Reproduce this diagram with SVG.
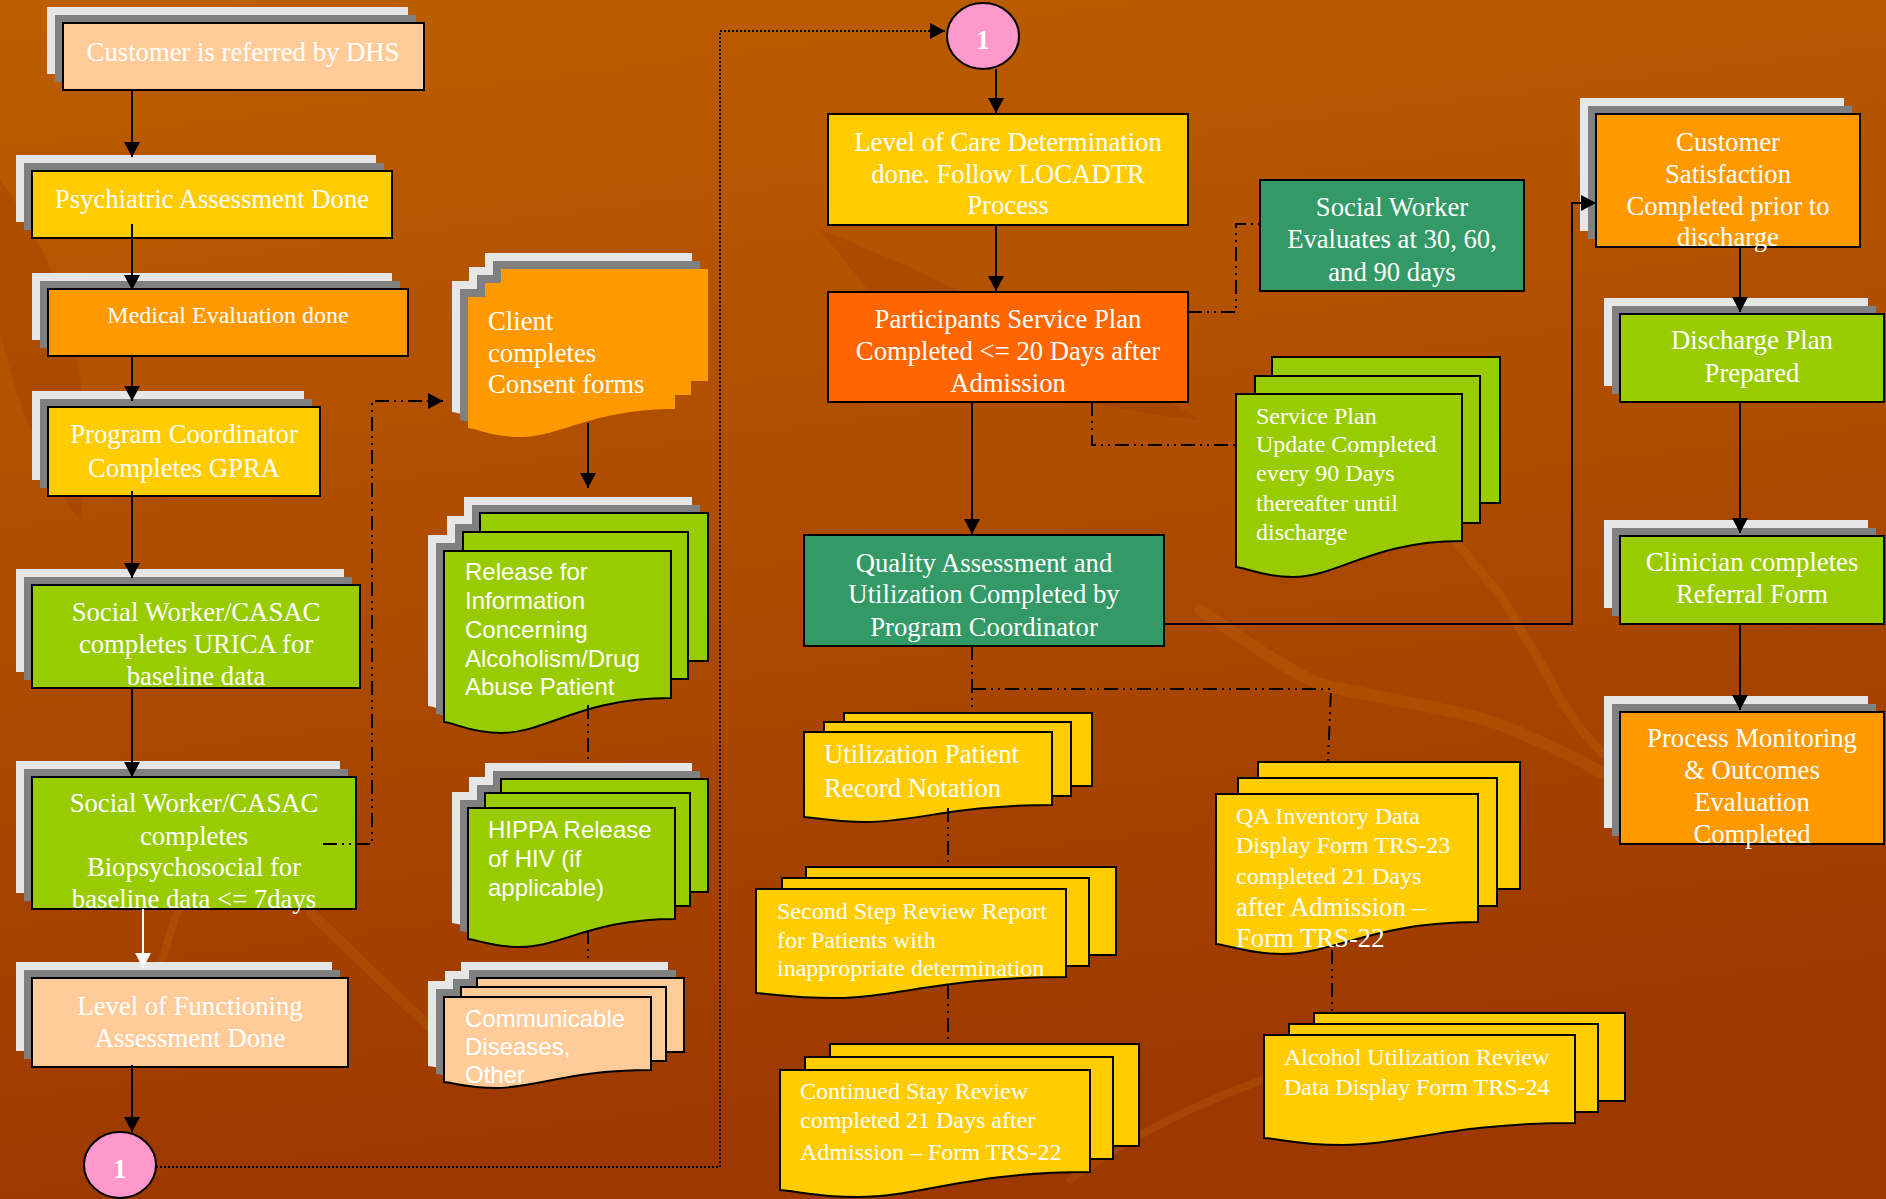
<svg xmlns="http://www.w3.org/2000/svg" xmlns:xlink="http://www.w3.org/1999/xlink" width="1886" height="1199" viewBox="0 0 1886 1199">
<style>
.box{stroke:#000;stroke-width:2}
.t{font-family:"Liberation Serif","Times New Roman",serif;fill:#fff;font-size:26.7px}
.t24{font-size:24px}
.ts{font-family:"Liberation Sans",Arial,sans-serif;fill:#fff;font-size:24px}
.c{text-anchor:middle}
.sh1{fill:#E6E6E6}
.sh2{fill:#808080}
.conn{fill:none;stroke:#000;stroke-width:2}
.dd{stroke-dasharray:14 5 2 5 2 5}
.dot{stroke-dasharray:2 2}
.peach{fill:#FFCC99}
.yel{fill:#FFCC00}
.org{fill:#FF9900}
.dorg{fill:#FF6600}
.grn{fill:#99CC00}
.teal{fill:#339966}
.pink{fill:#FF99CC}
</style>
<defs>
<linearGradient id="bg" x1="0" y1="0" x2="0.2" y2="1">
<stop offset="0" stop-color="#BC5E00"/>
<stop offset="0.5" stop-color="#AE4C00"/>
<stop offset="1" stop-color="#9C3800"/>
</linearGradient>
<marker id="arr" markerUnits="userSpaceOnUse" markerWidth="16" markerHeight="16" refX="15" refY="8" orient="auto">
<path d="M0,0 L15,8 L0,16 Z" fill="#000"/>
</marker>
<marker id="arrW" markerUnits="userSpaceOnUse" markerWidth="16" markerHeight="16" refX="15" refY="8" orient="auto">
<path d="M0,0 L15,8 L0,16 Z" fill="#fff"/>
</marker>
<g id="d-consent"><rect x="501" y="269" width="207" height="112"/><rect x="485" y="283" width="206" height="112"/><path d="M468,297 H675 V409 C592,409 561,437 520,437 C493,437 478,429 468,428 Z"/></g>
<g id="d-rel"><rect x="480" y="513" width="228" height="148"/><rect x="463" y="532" width="225" height="147"/><path d="M444,551 H671 V698 C580,698 546,733 501,733 C471,733 455,723 444,722 Z"/></g>
<g id="d-hippa"><rect x="501" y="779" width="207" height="113"/><rect x="485" y="793" width="205" height="113"/><path d="M468,808 H675 V919 C592,919 561,947 520,947 C493,947 478,940 468,939 Z"/></g>
<g id="d-comm"><rect x="477" y="978" width="207" height="74"/><rect x="461" y="987" width="205" height="74"/><path d="M444,997 H651 V1070 C568,1070 537,1088 496,1088 C469,1088 454,1083 444,1082 Z"/></g>
</defs>

<rect width="1886" height="1199" fill="url(#bg)"/>
<g fill="none" stroke="#D08A10" stroke-linecap="round" opacity="0.16">
<path d="M1200,610 C1260,650 1300,680 1331,687 C1420,705 1480,715 1506,727 C1550,745 1580,760 1602,773" stroke-width="12"/>
<path d="M1454,540 C1480,570 1495,590 1502,597 C1520,630 1540,660 1550,680 C1570,720 1590,740 1602,753" stroke-width="9"/>
<path d="M311,913 C350,950 400,1000 430,1027" stroke-width="10"/>
<path d="M182,900 C170,930 162,960 158,983" stroke-width="8"/>
<path d="M1070,1180 C1150,1120 1250,1080 1380,1040" stroke-width="8"/>
</g>
<g fill="#8E2E00" opacity="0.2">
<path d="M0,180 C60,260 100,380 80,520 C40,470 10,380 0,330 Z"/>
<path d="M820,230 C900,260 1050,330 1200,420 C1100,410 980,380 900,330 Z"/>
</g>

<g id="n-customer">
<rect class="sh1" x="47" y="7" width="361" height="67"/>
<rect class="sh2" x="55" y="15" width="361" height="67"/>
<rect class="box peach" x="63" y="23" width="361" height="67"/>
<text class="t c" x="243" y="61">Customer is referred by DHS</text>
</g>
<g id="n-psych">
<rect class="sh1" x="16" y="155" width="360" height="67"/>
<rect class="sh2" x="24" y="163" width="360" height="67"/>
<rect class="box yel" x="32" y="171" width="360" height="67"/>
<text class="t c" x="212" y="208">Psychiatric Assessment Done</text>
</g>
<g id="n-medical">
<rect class="sh1" x="32" y="273" width="360" height="67"/>
<rect class="sh2" x="40" y="281" width="360" height="67"/>
<rect class="box org" x="48" y="289" width="360" height="67"/>
<text class="t t24 c" x="228" y="323">Medical Evaluation done</text>
</g>
<g id="n-program">
<rect class="sh1" x="32" y="391" width="272" height="89"/>
<rect class="sh2" x="40" y="399" width="272" height="89"/>
<rect class="box yel" x="48" y="407" width="272" height="89"/>
<text class="t c" x="184" y="443">Program Coordinator</text>
<text class="t c" x="184" y="477">Completes GPRA</text>
</g>
<g id="n-urica">
<rect class="sh1" x="16" y="569" width="328" height="103"/>
<rect class="sh2" x="24" y="577" width="328" height="103"/>
<rect class="box grn" x="32" y="585" width="328" height="103"/>
<text class="t c" x="196" y="621">Social Worker/CASAC</text>
<text class="t c" x="196" y="653">completes URICA for</text>
<text class="t c" x="196" y="685">baseline data</text>
</g>
<g id="n-biopsych">
<rect class="sh1" x="16" y="761" width="324" height="132"/>
<rect class="sh2" x="24" y="769" width="324" height="132"/>
<rect class="box grn" x="32" y="777" width="324" height="132"/>
<text class="t c" x="194" y="812">Social Worker/CASAC</text>
<text class="t c" x="194" y="845">completes</text>
<text class="t c" x="194" y="876">Biopsychosocial for</text>
<text class="t c" x="194" y="908">baseline data &lt;= 7days</text>
</g>
<g id="n-lof">
<rect class="sh1" x="16" y="962" width="316" height="89"/>
<rect class="sh2" x="24" y="970" width="316" height="89"/>
<rect class="box peach" x="32" y="978" width="316" height="89"/>
<text class="t c" x="190" y="1015">Level of Functioning</text>
<text class="t c" x="190" y="1047">Assessment Done</text>
</g>
<g id="n-conn-bottom">
<ellipse class="box pink" cx="120" cy="1165" rx="36" ry="33"/>
<text class="t c" x="120" y="1178" font-size="28" font-weight="bold">1</text>
</g>

<g id="n-consent">
<use xlink:href="#d-consent" class="sh1" transform="translate(-16,-16)"/>
<use xlink:href="#d-consent" class="sh2" transform="translate(-8,-8)"/>
<use xlink:href="#d-consent" class="org"/>
<text class="t" x="488" y="330">Client</text>
<text class="t" x="488" y="362">completes</text>
<text class="t" x="488" y="393">Consent forms</text>
</g>
<g id="n-release">
<use xlink:href="#d-rel" class="sh1" transform="translate(-16,-16)"/>
<use xlink:href="#d-rel" class="sh2" transform="translate(-8,-8)"/>
<use xlink:href="#d-rel" class="grn" stroke="#000" stroke-width="2"/>
<text class="ts" x="465" y="580">Release for</text>
<text class="ts" x="465" y="609">Information</text>
<text class="ts" x="465" y="638">Concerning</text>
<text class="ts" x="465" y="667">Alcoholism/Drug</text>
<text class="ts" x="465" y="695">Abuse Patient</text>
</g>
<g id="n-hippa">
<use xlink:href="#d-hippa" class="sh1" transform="translate(-16,-16)"/>
<use xlink:href="#d-hippa" class="sh2" transform="translate(-8,-8)"/>
<use xlink:href="#d-hippa" class="grn" stroke="#000" stroke-width="2"/>
<text class="ts" x="488" y="838">HIPPA Release</text>
<text class="ts" x="488" y="867">of HIV (if</text>
<text class="ts" x="488" y="896">applicable)</text>
</g>
<g id="n-comm">
<use xlink:href="#d-comm" class="sh1" transform="translate(-16,-16)"/>
<use xlink:href="#d-comm" class="sh2" transform="translate(-8,-8)"/>
<use xlink:href="#d-comm" class="peach" stroke="#000" stroke-width="2"/>
<text class="ts" x="465" y="1027">Communicable</text>
<text class="ts" x="465" y="1055">Diseases,</text>
<text class="ts" x="465" y="1083">Other</text>
</g>

<g id="n-conn-top">
<ellipse class="box pink" cx="983" cy="36" rx="36" ry="33"/>
<text class="t c" x="983" y="49" font-size="28" font-weight="bold">1</text>
</g>
<g id="n-loc">
<rect class="box yel" x="828" y="114" width="360" height="111"/>
<text class="t c" x="1008" y="151">Level of Care Determination</text>
<text class="t c" x="1008" y="183">done. Follow LOCADTR</text>
<text class="t c" x="1008" y="214">Process</text>
</g>
<g id="n-participants">
<rect class="box dorg" x="828" y="292" width="360" height="110"/>
<text class="t c" x="1008" y="328">Participants Service Plan</text>
<text class="t c" x="1008" y="360">Completed &lt;= 20 Days after</text>
<text class="t c" x="1008" y="392">Admission</text>
</g>
<g id="n-sw">
<rect class="box teal" x="1260" y="180" width="264" height="111"/>
<text class="t c" x="1392" y="216">Social Worker</text>
<text class="t c" x="1392" y="248">Evaluates at 30, 60,</text>
<text class="t c" x="1392" y="281">and 90 days</text>
</g>
<g id="n-serviceplan">
<rect class="box grn" x="1272" y="357" width="228" height="146"/>
<rect class="box grn" x="1255" y="376" width="225" height="147"/>
<path class="box grn" d="M1236,394 H1462 V541 C1372,541 1338,577 1293,577 C1263,577 1247,568 1236,567 Z"/>
<text class="t t24" x="1256" y="424">Service Plan</text>
<text class="t t24" x="1256" y="452">Update Completed</text>
<text class="t t24" x="1256" y="481">every 90 Days</text>
<text class="t t24" x="1256" y="511">thereafter until</text>
<text class="t t24" x="1256" y="540">discharge</text>
</g>
<g id="n-qa">
<rect class="box teal" x="804" y="535" width="360" height="111"/>
<text class="t c" x="984" y="572">Quality Assessment and</text>
<text class="t c" x="984" y="603">Utilization Completed by</text>
<text class="t c" x="984" y="636">Program Coordinator</text>
</g>
<g id="n-utilization">
<rect class="box yel" x="844" y="713" width="248" height="73"/>
<rect class="box yel" x="824" y="722" width="247" height="74"/>
<path class="box yel" d="M804,732 H1052 V805 C953,805 916,822 866,822 C834,822 816,818 804,817 Z"/>
<text class="t" x="824" y="763">Utilization Patient</text>
<text class="t" x="824" y="797">Record Notation</text>
</g>
<g id="n-secondstep">
<rect class="box yel" x="806" y="867" width="310" height="88"/>
<rect class="box yel" x="782" y="878" width="307" height="88"/>
<path class="box yel" d="M756,889 H1066 V977 C942,977 896,998 834,998 C793,998 772,994 756,993 Z"/>
<text class="t t24" x="777" y="919">Second Step Review Report</text>
<text class="t t24" x="777" y="948">for Patients with</text>
<text class="t t24" x="777" y="976">inappropriate determination</text>
</g>
<g id="n-continued">
<rect class="box yel" x="830" y="1044" width="309" height="102"/>
<rect class="box yel" x="805" y="1057" width="308" height="102"/>
<path class="box yel" d="M780,1070 H1090 V1172 C966,1172 920,1197 858,1197 C817,1197 796,1191 780,1190 Z"/>
<text class="t t24" x="800" y="1099">Continued Stay Review</text>
<text class="t t24" x="800" y="1128">completed 21 Days after</text>
<text class="t t24" x="800" y="1160">Admission – Form TRS-22</text>
</g>
<g id="n-qainventory">
<rect class="box yel" x="1258" y="762" width="262" height="127"/>
<rect class="box yel" x="1238" y="778" width="259" height="128"/>
<path class="box yel" d="M1216,794 H1478 V922 C1373,922 1334,954 1282,954 C1247,954 1229,945 1216,944 Z"/>
<text class="t t24" x="1236" y="824">QA Inventory Data</text>
<text class="t t24" x="1236" y="853">Display Form TRS-23</text>
<text class="t t24" x="1236" y="884">completed 21 Days</text>
<text class="t" x="1236" y="916">after Admission –</text>
<text class="t" x="1236" y="947">Form TRS-22</text>
</g>
<g id="n-alcohol">
<rect class="box yel" x="1314" y="1013" width="311" height="88"/>
<rect class="box yel" x="1289" y="1024" width="309" height="88"/>
<path class="box yel" d="M1264,1035 H1575 V1123 C1451,1123 1404,1145 1342,1145 C1301,1145 1280,1139 1264,1138 Z"/>
<text class="t t24" x="1284" y="1065">Alcohol Utilization Review</text>
<text class="t t24" x="1284" y="1095">Data Display Form TRS-24</text>
</g>

<g id="n-custsat">
<rect class="sh1" x="1580" y="98" width="264" height="133"/>
<rect class="sh2" x="1588" y="106" width="264" height="133"/>
<rect class="box org" x="1596" y="114" width="264" height="133"/>
<text class="t c" x="1728" y="151">Customer</text>
<text class="t c" x="1728" y="183">Satisfaction</text>
<text class="t c" x="1728" y="215">Completed prior to</text>
<text class="t c" x="1728" y="246">discharge</text>
</g>
<g id="n-discharge">
<rect class="sh1" x="1604" y="298" width="264" height="88"/>
<rect class="sh2" x="1612" y="306" width="264" height="88"/>
<rect class="box grn" x="1620" y="314" width="264" height="88"/>
<text class="t c" x="1752" y="349">Discharge Plan</text>
<text class="t c" x="1752" y="382">Prepared</text>
</g>
<g id="n-clinician">
<rect class="sh1" x="1604" y="520" width="264" height="88"/>
<rect class="sh2" x="1612" y="528" width="264" height="88"/>
<rect class="box grn" x="1620" y="536" width="264" height="88"/>
<text class="t c" x="1752" y="571">Clinician completes</text>
<text class="t c" x="1752" y="603">Referral Form</text>
</g>
<g id="n-process">
<rect class="sh1" x="1604" y="696" width="264" height="132"/>
<rect class="sh2" x="1612" y="704" width="264" height="132"/>
<rect class="box org" x="1620" y="712" width="264" height="132"/>
<text class="t c" x="1752" y="747">Process Monitoring</text>
<text class="t c" x="1752" y="779">&amp; Outcomes</text>
<text class="t c" x="1752" y="811">Evaluation</text>
<text class="t c" x="1752" y="843">Completed</text>
</g>

<g id="connectors">
<path class="conn" d="M132,90 V157" marker-end="url(#arr)"/>
<path class="conn" d="M132,224 V290" marker-end="url(#arr)"/>
<path class="conn" d="M132,356 V401" marker-end="url(#arr)"/>
<path class="conn" d="M132,491 V578" marker-end="url(#arr)"/>
<path class="conn" d="M132,688 V777" marker-end="url(#arr)"/>
<path class="conn" d="M143,909 V968" style="stroke:#fff" marker-end="url(#arrW)"/>
<path class="conn" d="M132,1065 V1132" marker-end="url(#arr)"/>
<path class="conn dot" d="M156,1167 H720 V31 H945" marker-end="url(#arr)"/>
<path class="conn" d="M996,69 V113" marker-end="url(#arr)"/>
<path class="conn" d="M996,225 V291" marker-end="url(#arr)"/>
<path class="conn" d="M972,402 V534" marker-end="url(#arr)"/>
<path class="conn" d="M1164,624 H1572 V203 H1596" marker-end="url(#arr)"/>
<path class="conn" d="M1740,247 V312" marker-end="url(#arr)"/>
<path class="conn" d="M1740,402 V533" marker-end="url(#arr)"/>
<path class="conn" d="M1740,624 V710" marker-end="url(#arr)"/>
<path class="conn" d="M588,423 V488" marker-end="url(#arr)"/>
<path class="conn dd" d="M323,844 H372 V401 H443" marker-end="url(#arr)"/>
<path class="conn dd" d="M588,705 V763"/>
<path class="conn dd" d="M588,930 V963"/>
<path class="conn dd" d="M1188,312 H1236 V224 H1260"/>
<path class="conn dd" d="M1092,402 V445 H1236"/>
<path class="conn dd" d="M972,646 V707"/>
<path class="conn dd" d="M972,689 H1331 L1328,762"/>
<path class="conn dd" d="M948,808 V867"/>
<path class="conn dd" d="M948,985 V1044"/>
<path class="conn dd" d="M1332,950 V1013"/>
</g>
</svg>
